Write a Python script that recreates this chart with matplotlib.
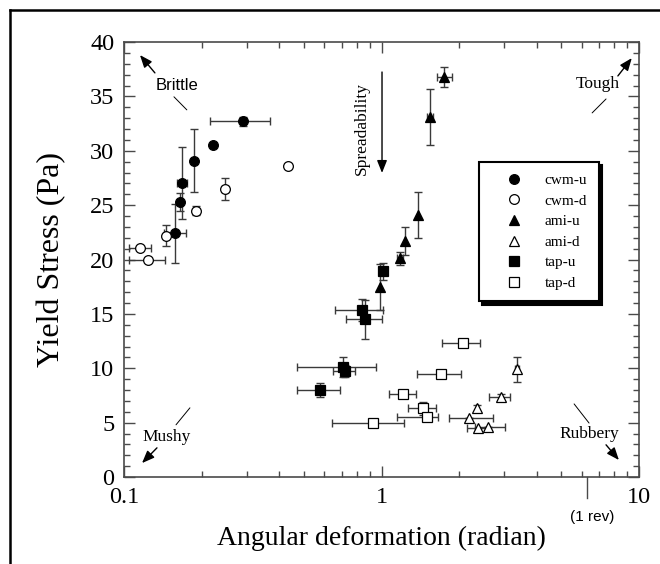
import numpy as np
import matplotlib
matplotlib.use("Agg")
import matplotlib.pyplot as plt
from matplotlib.lines import Line2D
from matplotlib.ticker import FixedLocator, NullFormatter, LogLocator

# ---------------- data ----------------
cwm_u_x = [0.29, 0.222, 0.187, 0.168, 0.165, 0.158]
cwm_u_y = [32.7, 30.5, 29.1, 27.0, 25.3, 22.4]
cwm_u_yerr = [0.4, 0.0, 2.9, 3.3, 0.8, 2.7]
cwm_u_xlo = [0.216, 0.222, 0.187, 0.160, 0.165, 0.143]
cwm_u_xhi = [0.369, 0.222, 0.187, 0.175, 0.165, 0.174]

cwm_d_x = [0.434, 0.247, 0.19, 0.146, 0.115, 0.124]
cwm_d_y = [28.6, 26.5, 24.5, 22.2, 21.1, 20.0]
cwm_d_yerr = [0.0, 1.0, 0.4, 1.0, 0.0, 0.0]
cwm_d_xlo = [0.434, 0.241, 0.19, 0.146, 0.105, 0.105]
cwm_d_xhi = [0.434, 0.253, 0.19, 0.146, 0.127, 0.144]

ami_u_x = [1.75, 1.54, 1.39, 1.23, 1.18, 0.99]
ami_u_y = [36.8, 33.1, 24.1, 21.7, 20.1, 17.5]
ami_u_yerr = [0.9, 2.6, 2.1, 1.25, 0.6, 2.1]
ami_u_xlo = [1.64, 1.50, 1.39, 1.23, 1.15, 0.99]
ami_u_xhi = [1.88, 1.58, 1.39, 1.23, 1.21, 0.99]

ami_d_x = [3.36, 2.90, 2.35, 2.19, 2.37, 2.59]
ami_d_y = [9.9, 7.35, 6.35, 5.4, 4.5, 4.6]
ami_d_yerr = [1.15, 0.3, 0.3, 0.0, 0.0, 0.0]
ami_d_xlo = [3.30, 2.62, 2.32, 1.83, 2.14, 2.30]
ami_d_xhi = [3.42, 3.15, 2.38, 2.71, 2.60, 3.02]

tap_u_x = [1.01, 0.84, 0.86, 0.71, 0.72, 0.577]
tap_u_y = [18.9, 15.35, 14.5, 10.1, 9.75, 8.0]
tap_u_yerr = [0.8, 1.0, 1.8, 0.9, 0.55, 0.6]
tap_u_xlo = [0.99, 0.66, 0.73, 0.47, 0.65, 0.47]
tap_u_xhi = [1.03, 1.01, 1.00, 0.95, 0.79, 0.69]

tap_d_x = [2.07, 1.70, 1.21, 1.45, 1.50, 0.93]
tap_d_y = [12.3, 9.5, 7.6, 6.3, 5.5, 4.95]
tap_d_yerr = [0.0, 0.0, 0.0, 0.6, 0.0, 0.0]
tap_d_xlo = [1.72, 1.37, 1.07, 1.27, 1.15, 0.64]
tap_d_xhi = [2.41, 2.04, 1.36, 1.63, 1.66, 1.22]

series = [
    ("cwm-u", "o", True, cwm_u_x, cwm_u_y, cwm_u_yerr, cwm_u_xlo, cwm_u_xhi),
    ("cwm-d", "o", False, cwm_d_x, cwm_d_y, cwm_d_yerr, cwm_d_xlo, cwm_d_xhi),
    ("ami-u", "^", True, ami_u_x, ami_u_y, ami_u_yerr, ami_u_xlo, ami_u_xhi),
    ("ami-d", "^", False, ami_d_x, ami_d_y, ami_d_yerr, ami_d_xlo, ami_d_xhi),
    ("tap-u", "s", True, tap_u_x, tap_u_y, tap_u_yerr, tap_u_xlo, tap_u_xhi),
    ("tap-d", "s", False, tap_d_x, tap_d_y, tap_d_yerr, tap_d_xlo, tap_d_xhi),
]

x_ticks = [0.1, 1, 10]
x_ticklabels = ["0.1", "1", "10"]
y_ticks = [0, 5, 10, 15, 20, 25, 30, 35, 40]
one_rev = 2 * np.pi

# ---------------- figure ----------------
serif = ["Liberation Serif", "DejaVu Serif"]
sans = ["Liberation Sans", "DejaVu Sans"]
plt.rcParams["font.family"] = serif

W, H = 660, 564
fig = plt.figure(figsize=(W / 100, H / 100), dpi=100)
L, R, T, B = 124, 639, 42, 477
ax = fig.add_axes([L / W, 1 - B / H, (R - L) / W, (B - T) / H])

spine_c = "#4a4a4a"
err_c = "#3a3a3a"

for name, mk, filled, x, y, yerr, xlo, xhi in series:
    x = np.array(x); y = np.array(y)
    xerr = np.vstack([x - np.array(xlo), np.array(xhi) - x])
    ms = 7.5 if mk == "^" else 7
    ax.errorbar(x, y, yerr=yerr, xerr=xerr, fmt="none", ecolor=err_c,
                elinewidth=1.0, capsize=3, capthick=1.0, zorder=2)
    ax.plot(x, y, linestyle="none", marker=mk, markersize=ms,
            markerfacecolor="black" if filled else "white",
            markeredgecolor="black", markeredgewidth=0.9, label=name, zorder=3)

ax.set_xscale("log")
ax.set_xlim(0.1, 10)
ax.set_ylim(0, 40)
ax.set_xticks(x_ticks)
ax.set_xticklabels(x_ticklabels)
ax.xaxis.set_minor_locator(LogLocator(base=10, subs=np.arange(2, 10)))
ax.xaxis.set_minor_formatter(NullFormatter())
ax.set_yticks(y_ticks)
ax.yaxis.set_minor_locator(FixedLocator(np.arange(0, 41, 1)))

for s in ax.spines.values():
    s.set_color(spine_c)
    s.set_linewidth(1.2)
ax.tick_params(which="both", direction="in", top=True, right=True,
               colors=spine_c, labelcolor="black", labelsize=17.5, pad=7)
ax.tick_params(which="major", length=8, width=1.0)
ax.tick_params(which="minor", length=4, width=1.0)
for lab in ax.get_xticklabels() + ax.get_yticklabels():
    lab.set_fontfamily(serif)

ax.set_xlabel("Angular deformation (radian)", fontsize=20, labelpad=13)
ax.set_ylabel("Yield Stress (Pa)", fontsize=23, labelpad=17)

# 1 rev marker
trans = ax.get_xaxis_transform()
ax.plot([one_rev, one_rev], [0, -0.048], color=spine_c, lw=1.0,
        transform=trans, clip_on=False)
ax.text(one_rev * 1.045, -0.092, "(1 rev)", transform=trans, ha="center",
        va="center", fontsize=11, family=sans)

# ---------------- annotations ----------------
ap = dict(arrowstyle="-|>,head_length=0.75,head_width=0.3", color="black",
          lw=1.0, shrinkA=0, shrinkB=0)
lp = dict(arrowstyle="-", color="black", lw=0.7, shrinkA=0, shrinkB=0)
tA = ax.transAxes

def arrow(tail, tip):
    ax.annotate("", xy=tip, xytext=tail, xycoords=tA, textcoords=tA,
                arrowprops=ap)

def line(p0, p1):
    ax.annotate("", xy=p1, xytext=p0, xycoords=tA, textcoords=tA,
                arrowprops=lp)

# Brittle
arrow((0.060, 0.929), (0.031, 0.970))
ax.text(0.103, 0.901, "Brittle", transform=tA, ha="center", va="center",
        fontsize=12, family=sans)
line((0.097, 0.874), (0.122, 0.844))
# Mushy
ax.text(0.083, 0.092, "Mushy", transform=tA, ha="center", va="center",
        fontsize=12.5)
line((0.101, 0.120), (0.128, 0.159))
arrow((0.064, 0.067), (0.035, 0.032))
# Tough
arrow((0.959, 0.922), (0.986, 0.963))
ax.text(0.920, 0.903, "Tough", transform=tA, ha="center", va="center",
        fontsize=12.5)
line((0.909, 0.837), (0.936, 0.869))
# Rubbery
ax.text(0.903, 0.099, "Rubbery", transform=tA, ha="center", va="center",
        fontsize=12.5)
line((0.874, 0.168), (0.903, 0.124))
arrow((0.936, 0.074), (0.961, 0.039))
# Spreadability
ax.text(0.462, 0.802, "Spreadability", transform=tA, ha="center",
        va="center", rotation=90, fontsize=12.5)
arrow((0.501, 0.931), (0.501, 0.699))

# ---------------- legend ----------------
leg = ax.legend(loc="upper left", bbox_to_anchor=(479 / W, 1 - 162 / H),
                bbox_transform=fig.transFigure, borderaxespad=0,
                fontsize=11, frameon=True, fancybox=False,
                shadow={"color": "black", "alpha": 1.0, "ox": 2.2, "oy": -2.2},
                handlelength=3.1, handletextpad=0.45, borderpad=0.75,
                labelspacing=0.45)
leg.get_frame().set_edgecolor("black")
leg.get_frame().set_linewidth(1.5)

# outer frame
fig.add_artist(Line2D([10 / W, 10 / W], [0, 1 - 10 / H], color="black",
                      lw=1.8, transform=fig.transFigure))
fig.add_artist(Line2D([10 / W, 1], [1 - 10 / H, 1 - 10 / H], color="black",
                      lw=1.8, transform=fig.transFigure))

fig.savefig("out.png", dpi=100)
